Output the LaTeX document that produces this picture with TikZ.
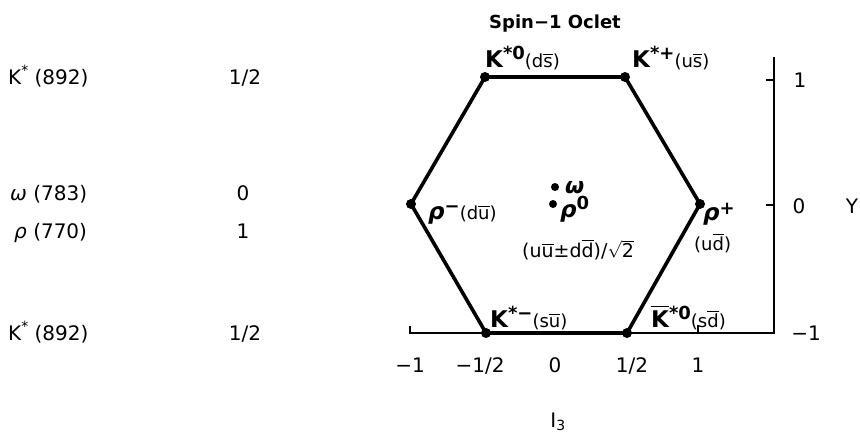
\documentclass[tikz,border=0pt]{standalone}
\usepackage{amsmath}
\usepackage{fontspec}
\setmainfont{DejaVu Sans}
\newcommand{\qb}[1]{$\overline{\text{#1}}$}
\newcommand{\fs}[1]{\fontsize{#1}{#1}\selectfont}
\begin{document}
\begin{tikzpicture}[x=1pt,y=-1pt,
  hexline/.style={line width=3.6pt, line join=round},
  axisline/.style={line width=2pt},
  vdot/.style={circle, fill=black, inner sep=0pt, minimum size=10pt},
  tab/.style={font=\fs{20}, inner sep=0pt, anchor=base west},
  num/.style={font=\fs{20}, inner sep=0pt, anchor=base},
  plab/.style={inner sep=0pt, anchor=base west},
]
\useasboundingbox (0,0) rectangle (860,442);

% title
\node[inner sep=0pt, anchor=base, font=\fs{18}\bfseries] (title) at (555,28) {Spin\textminus1 Oclet};

% left table
\node[tab] (k1) at (8,84) {K\raisebox{9pt}{\fs{14}*} (892)};
\node[num] (k1v) at (245,84) {1/2};
\node[tab] (om) at (10,200) {\textit{ω} (783)};
\node[num] (omv) at (243,200) {0};
\node[tab] (rh) at (14,238) {\textit{ρ} (770)};
\node[num] (rhv) at (243,238) {1};
\node[tab] (k2) at (8,340) {K\raisebox{9pt}{\fs{14}*} (892)};
\node[num] (k2v) at (245,340) {1/2};

% hexagon vertices
\coordinate (TL) at (485,77);
\coordinate (TR) at (625,77);
\coordinate (L) at (411,204);
\coordinate (R) at (700,204);
\coordinate (BL) at (486,333);
\coordinate (BR) at (627,333);

% axes
\coordinate (a0) at (410,326);
\coordinate (a1) at (410,333);
\coordinate (a2) at (774,333);
\coordinate (a3) at (774,57);
\draw[axisline] (a0) -- (a1) -- (a2) -- (a3);
\coordinate (t1a) at (698,333);
\coordinate (t1b) at (698,325);
\draw[axisline] (t1a) -- (t1b);
\coordinate (y1a) at (774,80);
\coordinate (y1b) at (766,80);
\draw[axisline] (y1a) -- (y1b);
\coordinate (y0a) at (774,205);
\coordinate (y0b) at (766,205);
\draw[axisline] (y0a) -- (y0b);

\draw[hexline] (TL) -- (TR) -- (R) -- (BR) -- (BL) -- (L) -- cycle;
\foreach \v in {TL,TR,L,R,BL,BR} \node[vdot] (d\v) at (\v) {};

% axis labels
\node[num] (ly1) at (800,87) {1};
\node[num] (ly0) at (799,213) {0};
\node[num] (lY) at (852,213) {Y};
\node[num] (lym) at (806,340) {\textminus1};
\node[num] (lx1) at (410,372) {\textminus1};
\node[num] (lx2) at (480,372) {\textminus1/2};
\node[num] (lx3) at (555,372) {0};
\node[num] (lx4) at (632,372) {1/2};
\node[num] (lx5) at (698,372) {1};
\node[num] (lI) at (558,427) {I$_{\text{3}}$};

% particle labels
\node[plab] (pK0) at (485,67) {{\fs{23}\bfseries K}\raisebox{8pt}{\fs{18}\bfseries *0}{\fs{18}(d\qb{s})}};
\node[plab] (pKp) at (632,67) {{\fs{23}\bfseries K}\raisebox{8pt}{\fs{18}\bfseries *+}{\fs{18}(u\qb{s})}};
\node[plab] (prm) at (428,219) {{\fs{23}\bfseries\itshape ρ}\raisebox{7pt}{\fs{18}\bfseries \textminus}{\fs{18}(d\qb{u})}};
\node[vdot, minimum size=8pt] (dom) at (555,187) {};
\node[plab] (pom) at (565,193) {{\fs{22}\bfseries\itshape ω}};
\node[vdot, minimum size=8pt] (drh) at (553,204) {};
\node[plab] (prh0) at (560,217) {{\fs{23}\bfseries\itshape ρ}\raisebox{8pt}{\fs{18}\bfseries 0}};
\node[plab, font=\fs{19}] (mix) at (522,257) {(u\qb{u}±d\qb{d})/$\sqrt{\text{2}}$};
\node[plab] (prp) at (703,220) {{\fs{23}\bfseries\itshape ρ}\raisebox{6pt}{\fs{18}\bfseries +}};
\node[plab, font=\fs{18}] (prpq) at (694,250) {(u\qb{d})};
\node[plab] (pKm) at (490,327) {{\fs{23}\bfseries K}\raisebox{8pt}{\fs{18}\bfseries *\textminus}{\fs{18}(s\qb{u})}};
\node[plab] (pKb) at (651,327) {{\fs{23}\bfseries $\overline{\text{K}}$}\raisebox{8pt}{\fs{18}\bfseries *0}{\fs{18}(s\qb{d})}};
\end{tikzpicture}
\end{document}
